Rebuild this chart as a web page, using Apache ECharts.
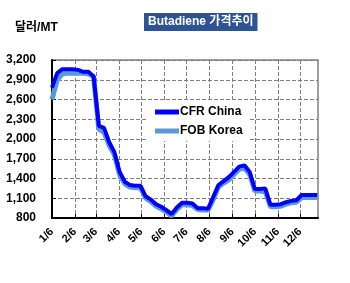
<!DOCTYPE html>
<html><head><meta charset="utf-8">
<script src="https://cdn.jsdelivr.net/npm/echarts@6/dist/echarts.min.js"></script>
<style>html,body{margin:0;padding:0;background:#fff}#c{width:350px;height:283px}</style>
</head><body><div id="c"></div>
<script>
// Weekly observation dates (starting 1/6)
const weekDates = ["1/6","1/13","1/20","1/27","2/3","2/10","2/17","2/24","3/3","3/10","3/17","3/24","3/31","4/7","4/14","4/21","4/28","5/5","5/12","5/19","5/26","6/2","6/9","6/16","6/23","6/30","7/7","7/14","7/21","7/28","8/4","8/11","8/18","8/25","9/1","9/8","9/15","9/22","9/29","10/6","10/13","10/20","10/27","11/3","11/10","11/17","11/24","12/1","12/8","12/15","12/22","12/29"];
const cfrChina = [2780,3000,3060,3060,3060,3050,3020,3020,2950,2200,2170,1950,1800,1500,1350,1300,1290,1290,1130,1080,1010,970,920,860,960,1030,1030,1020,950,950,940,1120,1300,1360,1420,1500,1580,1600,1500,1240,1240,1250,1000,1000,1010,1040,1060,1070,1150,1150,1150,1150];
const fobKorea = [2600,2900,2990,3000,3000,3000,3000,2990,2950,2150,2100,1900,1760,1450,1320,1270,1260,1260,1100,1050,980,940,890,830,930,1000,1000,990,930,920,920,1080,1270,1330,1380,1460,1540,1560,1460,1210,1210,1200,970,970,980,1010,1030,1040,1110,1110,1110,1110];
const monthLabels = ["1/6","2/6","3/6","4/6","5/6","6/6","7/6","8/6","9/6","10/6","11/6","12/6"];
const yTicks = [800,1100,1400,1700,2000,2300,2600,2900,3200];

const monthStart = [0,31,59,90,120,151,181,212,243,273,304,334]; // day-of-year offset (non-leap) for 1st of each month, Jan=0
function dayOffset(md){ const [m,d]=md.split('/').map(Number); return monthStart[m-1]+d-6; }
const tickDays = monthLabels.map(dayOffset);
const labelMap = {}; tickDays.forEach((v,i)=>labelMap[v]=monthLabels[i]);

const FONT = "'Liberation Sans', Arial, 'Noto Sans CJK KR', sans-serif";
const chart = echarts.init(document.getElementById('c'), null, {renderer:'canvas'});
chart.setOption({
  animation:false,
  textStyle:{fontFamily:FONT},
  title:{text:'Butadiene 가격추이', left:144, top:13, backgroundColor:'#2F5496', padding:[3,4,3,4],
    textStyle:{color:'#fff', fontSize:12, fontWeight:'bold', fontFamily:FONT}},
  graphic:[{type:'text', left:15, top:22, style:{text:'달러/MT', font:"bold 12px "+FONT, fill:'#000'}}],
  legend:{left:147, top:102, orient:'vertical', backgroundColor:'#fff', padding:[4,6,4,8], itemGap:7,
    itemWidth:24, itemHeight:5, icon:'rect',
    data:['CFR China','FOB Korea'],
    textStyle:{fontSize:12, fontWeight:'bold', color:'#000', fontFamily:FONT, padding:[0,0,0,-4]}},
  grid:{left:52, top:60, right:32, bottom:65, show:true, borderColor:'#808080', borderWidth:1.5},
  xAxis:{type:'value', min:0, max:358,
    axisLine:{show:true, onZero:false, lineStyle:{color:'#000', width:2}},
    axisTick:{show:true, inside:true, length:4, customValues:tickDays, lineStyle:{color:'#000'}},
    axisLabel:{customValues:tickDays, rotate:45, formatter:v=>labelMap[v]||'', fontSize:11, fontWeight:'bold', color:'#000', margin:12, fontFamily:FONT},
    splitLine:{show:true, lineStyle:{color:'#7f7f7f', type:[4,2], width:1}}},
  yAxis:{type:'value', min:800, max:3200, interval:300,
    axisLine:{show:true, lineStyle:{color:'#000', width:2}},
    axisTick:{show:true, inside:true, length:4, lineStyle:{color:'#000'}},
    axisLabel:{formatter:v=>v.toLocaleString('en-US'), fontSize:12, fontWeight:'bold', color:'#000', margin:16, fontFamily:FONT},
    splitLine:{show:true, lineStyle:{color:'#7f7f7f', type:[4,2], width:1}}},
  series:[
    {name:'FOB Korea', type:'line', showSymbol:false, z:2, color:'#5B9BD5',
      lineStyle:{color:'#5B9BD5', width:5}, data:weekDates.map((d,i)=>[dayOffset(d), fobKorea[i]])},
    {name:'CFR China', type:'line', showSymbol:false, z:3, color:'#0000FF',
      lineStyle:{color:'#0000FF', width:4}, data:weekDates.map((d,i)=>[dayOffset(d), cfrChina[i]])}
  ]
});
</script></body></html>
